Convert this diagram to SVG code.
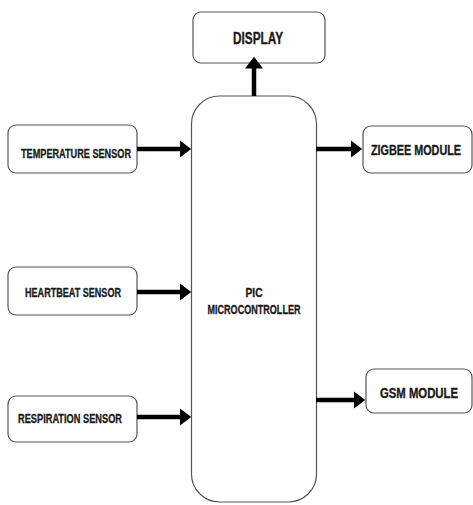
<svg xmlns="http://www.w3.org/2000/svg" width="473" height="505" viewBox="0 0 473 505">
<style>
.box{fill:#fff;stroke:#555;stroke-width:1.2}
.t{font-family:"Liberation Sans Narrow","Liberation Sans",Arial,sans-serif;font-weight:bold;fill:#1a1a1a;stroke:#1a1a1a;stroke-width:0.35;text-anchor:middle;dominant-baseline:central}
.s{font-size:13px}
.l{font-size:16px}
.r{font-size:14.5px}
.m{font-size:13.5px}
.c{stroke:#000;stroke-width:4.5;fill:none}
</style>
<defs>
<marker id="ah" markerWidth="4" markerHeight="4" refX="1" refY="2" orient="auto" markerUnits="strokeWidth">
<path d="M0,0 L2.6,2 L0,4 z" fill="#000"/>
</marker>
</defs>
<rect width="473" height="505" fill="#fff"/>
<g id="display">
<rect class="box" x="193" y="12" width="132" height="51" rx="8"/>
<text class="t l" x="258" y="38" textLength="50" lengthAdjust="spacingAndGlyphs">DISPLAY</text>
</g>
<g id="mcu">
<rect class="box" x="191.5" y="96" width="125" height="406" rx="28"/>
<text class="t m" x="254" y="292" textLength="17" lengthAdjust="spacingAndGlyphs">PIC</text>
<text class="t m" x="254" y="309" textLength="93" lengthAdjust="spacingAndGlyphs">MICROCONTROLLER</text>
</g>
<g id="temperature">
<rect class="box" x="8" y="125" width="129" height="48" rx="8"/>
<text class="t s" x="76" y="153" textLength="110" lengthAdjust="spacingAndGlyphs">TEMPERATURE SENSOR</text>
</g>
<g id="heartbeat">
<rect class="box" x="8" y="267" width="129" height="48" rx="8"/>
<text class="t s" x="73" y="292" textLength="96" lengthAdjust="spacingAndGlyphs">HEARTBEAT SENSOR</text>
</g>
<g id="respiration">
<rect class="box" x="8" y="396" width="129" height="46" rx="8"/>
<text class="t s" x="70" y="418" textLength="104" lengthAdjust="spacingAndGlyphs">RESPIRATION SENSOR</text>
</g>
<g id="zigbee">
<rect class="box" x="363" y="126" width="109" height="47" rx="8"/>
<text class="t r" x="416" y="150" textLength="90" lengthAdjust="spacingAndGlyphs">ZIGBEE MODULE</text>
</g>
<g id="gsm">
<rect class="box" x="366" y="369" width="106" height="44" rx="8"/>
<text class="t r" x="419" y="393" textLength="78" lengthAdjust="spacingAndGlyphs">GSM MODULE</text>
</g>
<g id="connectors">
<path class="c" d="M254,96 V64" marker-end="url(#ah)"/>
<path class="c" d="M137,149 H184" marker-end="url(#ah)"/>
<path class="c" d="M137,292 H184" marker-end="url(#ah)"/>
<path class="c" d="M137,417 H184" marker-end="url(#ah)"/>
<path class="c" d="M316,149 H355" marker-end="url(#ah)"/>
<path class="c" d="M316,400 H358" marker-end="url(#ah)"/>
</g>
</svg>
